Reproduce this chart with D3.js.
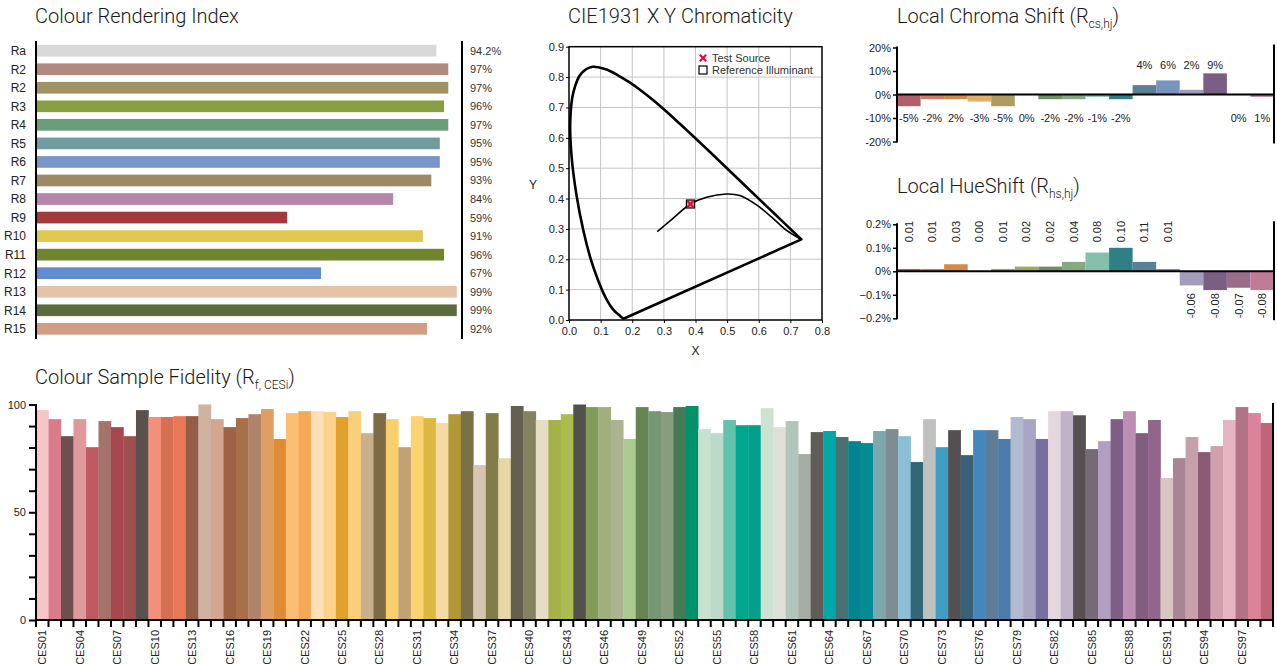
<!DOCTYPE html>
<html>
<head>
<meta charset="utf-8">
<script src="https://cdnjs.cloudflare.com/ajax/libs/d3/7.8.5/d3.min.js"></script>
<style>
  body { margin: 0; background: #fff; }
  svg { font-family: "Liberation Sans", Arial, sans-serif; }
  .title { font-family: Roboto, "Liberation Sans", sans-serif; font-weight: 300; font-size: 20px; fill: #1a1a1a; }
  .lbl { font-size: 11px; fill: #222; }
</style>
</head>
<body>
<div class="canvas"></div>
<script>
const w = 1277;
const h = 664;

// Colour Rendering Index
const criLabels = ["Ra", "R2", "R2", "R3", "R4", "R5", "R6", "R7", "R8", "R9", "R10", "R11", "R12", "R13", "R14", "R15"];
const criValues = [94.2, 97, 97, 96, 97, 95, 95, 93, 84, 59, 91, 96, 67, 99, 99, 92];
const criText = ["94.2%", "97%", "97%", "96%", "97%", "95%", "95%", "93%", "84%", "59%", "91%", "96%", "67%", "99%", "99%", "92%"];
const criColors = ["#d9d9d9", "#b08a7e", "#a09263", "#8a9e42", "#6b9e78", "#719ca0", "#7896c8", "#9c8a64",
                   "#b685ac", "#a33b3e", "#e1c852", "#70852c", "#628cd0", "#e4c3a6", "#5b6b3c", "#d19d84"];

// CIE 1931 spectral locus (x, y) and planckian locus
const locusX = [0.1741, 0.1740, 0.1738, 0.1736, 0.1733, 0.1730, 0.1726, 0.1721, 0.1714, 0.1703, 0.1689, 0.1669, 0.1644, 0.1611, 0.1566, 0.1510, 0.1440, 0.1355, 0.1241, 0.1096, 0.0913, 0.0687, 0.0454, 0.0235, 0.0082, 0.0039, 0.0139, 0.0389, 0.0743, 0.1142, 0.1547, 0.1929, 0.2296, 0.2658, 0.3016, 0.3373, 0.3731, 0.4087, 0.4441, 0.4788, 0.5125, 0.5448, 0.5752, 0.6029, 0.6270, 0.6482, 0.6658, 0.6801, 0.6915, 0.7006, 0.7079, 0.7140, 0.7190, 0.7230, 0.7260, 0.7300, 0.7320, 0.7334, 0.7347];
const locusY = [0.0050, 0.0050, 0.0049, 0.0049, 0.0048, 0.0048, 0.0048, 0.0048, 0.0051, 0.0058, 0.0069, 0.0086, 0.0109, 0.0138, 0.0177, 0.0227, 0.0297, 0.0399, 0.0578, 0.0868, 0.1327, 0.2007, 0.2950, 0.4127, 0.5384, 0.6548, 0.7502, 0.8120, 0.8338, 0.8262, 0.8059, 0.7816, 0.7543, 0.7243, 0.6923, 0.6589, 0.6245, 0.5896, 0.5547, 0.5202, 0.4866, 0.4544, 0.4242, 0.3965, 0.3725, 0.3514, 0.3340, 0.3197, 0.3083, 0.2993, 0.2920, 0.2859, 0.2809, 0.2770, 0.2740, 0.2700, 0.2680, 0.2666, 0.2653];
const planckX = [0.279, 0.329, 0.384, 0.435, 0.498, 0.540, 0.593, 0.645, 0.687, 0.733];
const planckY = [0.291, 0.335, 0.382, 0.404, 0.415, 0.410, 0.379, 0.335, 0.296, 0.266];
const testPoint = [0.384, 0.382];

// Local chroma / hue shift
const chromaValues = [-5, -2, -2, -3, -5, 0, -2, -2, -1, -2, 4, 6, 2, 9, 0, -1];
const chromaText = ["-5%", "-2%", "2%", "-3%", "-5%", "0%", "-2%", "-2%", "-1%", "-2%", "4%", "6%", "2%", "9%", "0%", "1%"];
const hueValues = [0.01, 0.01, 0.03, 0, 0.01, 0.02, 0.02, 0.04, 0.08, 0.10, 0.04, 0.01, -0.06, -0.08, -0.07, -0.08];
const hueText = ["0.01", "0.01", "0.03", "0.00", "0.01", "0.02", "0.02", "0.04", "0.08", "0.10", "0.11", "0.01", "-0.06", "-0.08", "-0.07", "-0.08"];
const binColors = ["#b0606a", "#cf7e6c", "#d38a4c", "#e0b068", "#b09c60", "#a8a460", "#6e9060", "#88a884",
                   "#84c0ac", "#2e8084", "#5a8098", "#7894bc", "#a49cbc", "#7a5e84", "#9a6e8a", "#c07c96"];

// Colour sample fidelity CES01..CES99
const cesValues = [97.4, 93.2, 85.3, 93.2, 80.2, 92.3, 89.5, 85.3, 97.4, 94.2,
                   94.2, 94.6, 94.6, 100, 93.2, 89.5, 93.7, 95.5, 97.9, 84,
                   96, 96.9, 96.9, 96.5, 94.2, 96.9, 86.7, 96, 93.2, 80.2,
                   94.6, 93.7, 91.4, 95.5, 96.9, 71.9, 96, 75.1, 99.3, 96.9,
                   92.8, 92.8, 95.5, 100, 98.8, 98.8, 92.8, 84, 98.8, 96.9,
                   96.5, 98.8, 99.3, 88.6, 86.7, 92.8, 90.4, 90.4, 98.3, 89.5,
                   92.3, 77, 87.2, 87.7, 84.9, 83, 82.1, 87.7, 88.6, 85.3,
                   73.3, 93.2, 80.2, 88.1, 76.5, 88.1, 88.1, 84, 94.2, 93.2,
                   84, 96.9, 96.9, 95, 79.3, 83, 93.2, 96.9, 86.7, 92.8,
                   65.9, 75.1, 84.9, 77.9, 80.7, 92.8, 98.8, 96, 91.4];
const cesColors = ["#f7c4c8", "#d97b8a", "#6e4f4d", "#de9a9a", "#c05a62", "#a6736c", "#a7474f", "#a05050", "#5a504e", "#f4907a",
                   "#d67055", "#e87858", "#935e45", "#cfb2a0", "#d5a68f", "#9e6342", "#a87048", "#b08468", "#e09e64", "#e08c34",
                   "#fbbf73", "#f6a955", "#fddfb8", "#fdd28d", "#e0a22c", "#fbcf7a", "#c9b08a", "#7e6b45", "#f9cf6c", "#c1a373",
                   "#fbd370", "#dcb842", "#f5dba2", "#b19735", "#7b7048", "#d5c5b1", "#827c48", "#e5d7a6", "#636050", "#85825f",
                   "#e5dec4", "#a5b24a", "#abbd4f", "#54514d", "#829b58", "#a0af7b", "#adb390", "#abca90", "#668552", "#769774",
                   "#869e7e", "#457a56", "#00926a", "#c9e1cf", "#bcd9c9", "#63c2ab", "#00a68d", "#00a08a", "#cce2d3", "#dfdfd5",
                   "#b1c5bd", "#a7aca5", "#5e5d59", "#00a8aa", "#497172", "#048490", "#048c94", "#7ea8ae", "#808c93", "#8bbfd6",
                   "#326778", "#bfc1be", "#3d9fc3", "#525050", "#386178", "#4587bb", "#5e7b97", "#4a7bab", "#b3bad0", "#a8a6c4",
                   "#77709f", "#e4d8de", "#c0b2c8", "#575053", "#756a75", "#b39ec4", "#7d5f86", "#bb8fb4", "#815e7d", "#92668c",
                   "#d8c7c0", "#a98494", "#c6a1ab", "#8d5a73", "#d0a0ad", "#e6b4c3", "#b17385", "#dc8299", "#c1647a"];
const cesLabels = cesValues.map((d, i) => "CES" + String(i + 1).padStart(2, "0"));

const graph = d3.select(".canvas")
                .append("svg")
                .attr("width", w)
                .attr("height", h);

function title(x, y, main, sub) {
  const t = graph.append("text").attr("class", "title").attr("x", x).attr("y", y).text(main);
  if (sub) {
    t.append("tspan").attr("font-size", "12px").attr("dy", 5).text(sub);
    t.append("tspan").attr("dy", -5).text(")");
  }
}

//CRI
title(35, 23, "Colour Rendering Index");

const criY = d3.scaleBand().domain(d3.range(criLabels.length)).range([41.5, 338]).paddingInner(0.37).paddingOuter(0.18);
const criX = d3.scaleLinear().domain([0, 100]).range([37, 461]);

graph.append("g").selectAll("rect")
  .data(criValues)
  .enter().append("rect")
  .attr("x", criX(0))
  .attr("y", (d, i) => criY(i))
  .attr("width", d => criX(d) - criX(0))
  .attr("height", criY.bandwidth())
  .attr("fill", (d, i) => criColors[i]);

graph.append("g").selectAll("text")
  .data(criLabels)
  .enter().append("text")
  .attr("x", 26)
  .attr("y", (d, i) => criY(i) + criY.bandwidth() / 2)
  .attr("dy", "0.36em")
  .attr("text-anchor", "end")
  .style("font-size", "12px")
  .style("fill", "#222")
  .text(d => d);

graph.append("g").selectAll("text")
  .data(criText)
  .enter().append("text")
  .attr("class", "lbl")
  .attr("x", 470)
  .attr("y", (d, i) => criY(i) + criY.bandwidth() / 2)
  .attr("dy", "0.36em")
  .style("fill", "#333")
  .text(d => d);

[36, 462].forEach(x => {
  graph.append("line").attr("x1", x).attr("x2", x).attr("y1", 41).attr("y2", 339)
    .attr("stroke", "#000").attr("stroke-width", 2);
});

//CIE chromaticity
title(568, 23, "CIE1931 X Y Chromaticity");

const cx = d3.scaleLinear().domain([0, 0.8]).range([569, 822]);
const cy = d3.scaleLinear().domain([0, 0.9]).range([320, 46.7]);

const cie = graph.append("g");
cie.selectAll(".gx").data(d3.range(1, 8).map(d => d / 10)).enter().append("line")
  .attr("x1", d => cx(d)).attr("x2", d => cx(d)).attr("y1", cy(0)).attr("y2", cy(0.9))
  .attr("stroke", "#c4c4c4");
cie.selectAll(".gy").data(d3.range(1, 9).map(d => d / 10)).enter().append("line")
  .attr("x1", cx(0)).attr("x2", cx(0.8)).attr("y1", d => cy(d)).attr("y2", d => cy(d))
  .attr("stroke", "#c4c4c4");

cie.append("g")
  .attr("transform", "translate(0," + cy(0) + ")")
  .call(d3.axisBottom(cx).tickValues(d3.range(0, 9).map(d => d / 10)).tickFormat(d3.format(".1f")).tickSize(3).tickPadding(4))
  .call(g => g.select(".domain").remove())
  .call(g => g.selectAll("text").attr("class", "lbl").style("font-family", null));
cie.append("g")
  .attr("transform", "translate(" + cx(0) + ",0)")
  .call(d3.axisLeft(cy).tickValues(d3.range(0, 10).map(d => d / 10)).tickFormat(d3.format(".1f")).tickSize(3).tickPadding(2))
  .call(g => g.select(".domain").remove())
  .call(g => g.selectAll("text").attr("class", "lbl").style("font-family", null));

cie.append("rect")
  .attr("x", cx(0)).attr("y", cy(0.9))
  .attr("width", cx(0.8) - cx(0)).attr("height", cy(0) - cy(0.9))
  .attr("fill", "none").attr("stroke", "#000").attr("stroke-width", 1.5);

cie.append("text").attr("class", "lbl").attr("x", 533).attr("y", 189).attr("text-anchor", "middle").style("font-size", "12px").text("Y");
cie.append("text").attr("class", "lbl").attr("x", cx(0.4)).attr("y", 355).attr("text-anchor", "middle").style("font-size", "12px").text("X");

const locusPts = locusX.map((d, i) => [d, locusY[i]]);
const locusLine = d3.line().x(d => cx(d[0])).y(d => cy(d[1]));
cie.append("path")
  .datum(locusPts)
  .attr("d", locusLine.curve(d3.curveCatmullRom.alpha(0.5)))
  .attr("fill", "none").attr("stroke", "#000").attr("stroke-width", 2.6).attr("stroke-linejoin", "round");
cie.append("path")
  .datum([locusPts[locusPts.length - 1], locusPts[0]])
  .attr("d", d3.line().x(d => cx(d[0])).y(d => cy(d[1])))
  .attr("fill", "none").attr("stroke", "#000").attr("stroke-width", 2.6).attr("stroke-linecap", "round");

cie.append("path")
  .datum(planckX.map((d, i) => [d, planckY[i]]))
  .attr("d", d3.line().x(d => cx(d[0])).y(d => cy(d[1])).curve(d3.curveCatmullRom))
  .attr("fill", "none").attr("stroke", "#000").attr("stroke-width", 1.6);

function crossMark(g, x, y, s) {
  g.append("path")
    .attr("d", "M" + (x - s) + "," + (y - s) + "L" + (x + s) + "," + (y + s) + "M" + (x - s) + "," + (y + s) + "L" + (x + s) + "," + (y - s))
    .attr("stroke", "#e8003c").attr("stroke-width", 2);
}

cie.append("rect")
  .attr("x", cx(testPoint[0]) - 4).attr("y", cy(testPoint[1]) - 4)
  .attr("width", 8).attr("height", 8)
  .attr("fill", "#f39aa6").attr("stroke", "#000").attr("stroke-width", 1.2);
crossMark(cie, cx(testPoint[0]), cy(testPoint[1]), 3);

//Legend
crossMark(cie, 703, 58, 3.2);
cie.append("rect").attr("x", 699).attr("y", 66).attr("width", 8).attr("height", 8)
  .attr("fill", "#fff").attr("stroke", "#000").attr("stroke-width", 1.2);
cie.append("text").attr("class", "lbl").attr("x", 712).attr("y", 62).style("fill", "#333").text("Test Source");
cie.append("text").attr("class", "lbl").attr("x", 712).attr("y", 74).style("fill", "#333").text("Reference Illuminant");

//Shift charts
function shiftChart(top, bottom, values, texts, maxV, ticks, fmt, rotate) {
  const x = d3.scaleBand().domain(d3.range(values.length)).range([897, 1274]);
  const y = d3.scaleLinear().domain([-maxV, maxV]).range([bottom, top]);
  const g = graph.append("g");

  g.selectAll("rect")
    .data(values)
    .enter().append("rect")
    .attr("x", (d, i) => x(i))
    .attr("y", d => y(Math.max(0, d)))
    .attr("width", x.bandwidth())
    .attr("height", d => Math.abs(y(d) - y(0)))
    .attr("fill", (d, i) => binColors[i]);

  g.append("g")
    .attr("transform", "translate(897,0)")
    .call(d3.axisLeft(y).tickValues(ticks).tickFormat(fmt).tickSize(4).tickPadding(2))
    .call(a => a.select(".domain").remove())
    .call(a => a.selectAll("line").attr("stroke-width", 1.5))
    .call(a => a.selectAll("text").attr("class", "lbl").style("font-family", null));

  g.append("line").attr("x1", 897).attr("x2", 897).attr("y1", top - 1).attr("y2", bottom + 1)
    .attr("stroke", "#000").attr("stroke-width", 2);
  g.append("line").attr("x1", 1274).attr("x2", 1274).attr("y1", top - 3).attr("y2", bottom + 2)
    .attr("stroke", "#000").attr("stroke-width", 2);
  g.append("line").attr("x1", 897).attr("x2", 1274).attr("y1", y(0)).attr("y2", y(0))
    .attr("stroke", "#000").attr("stroke-width", 2);

  const labels = g.append("g").selectAll("text")
    .data(texts)
    .enter().append("text")
    .attr("class", "lbl")
    .text(d => d);

  if (rotate) {
    labels
      .attr("text-anchor", "start")
      .attr("dy", "0.35em")
      .attr("transform", (d, i) => {
        const py = values[i] > 0 || (values[i] === 0 && i < 12) ? top + 18 : bottom;
        return "translate(" + (x(i) + x.bandwidth() / 2) + "," + py + ") rotate(-90)";
      });
  } else {
    labels
      .attr("text-anchor", "middle")
      .attr("x", (d, i) => x(i) + x.bandwidth() / 2)
      .attr("y", (d, i) => values[i] > 0 ? y(maxV * 0.62) : y(-maxV * 0.5))
      .attr("dy", "0.35em");
  }
}

title(897, 23, "Local Chroma Shift (R", "cs,hj");
shiftChart(47.5, 141.5, chromaValues, chromaText, 20, [-20, -10, 0, 10, 20], d => d + "%", false);

title(897, 193, "Local HueShift (R", "hs,hj");
shiftChart(224.3, 318.3, hueValues, hueText, 0.2, [-0.2, -0.1, 0, 0.1, 0.2], d => (d === 0 ? "0" : d3.format(".1f")(d)) + "%", true);

//Colour sample fidelity
title(35, 384, "Colour Sample Fidelity (R", "f, CESi");

const fx = d3.scaleBand().domain(cesLabels).range([36, 1273]);
const fy = d3.scaleLinear().domain([0, 100]).range([620, 404.5]);

graph.append("g").selectAll("rect")
  .data(cesValues)
  .enter().append("rect")
  .attr("x", (d, i) => fx(cesLabels[i]))
  .attr("y", d => fy(d))
  .attr("width", fx.bandwidth() + 0.3)
  .attr("height", d => fy(0) - fy(d))
  .attr("fill", (d, i) => cesColors[i]);

graph.append("g")
  .attr("transform", "translate(36,0)")
  .call(d3.axisLeft(fy).tickValues(d3.range(0, 101, 10)).tickFormat(d => d % 50 === 0 ? d : "").tickSize(7).tickPadding(3))
  .call(g => g.select(".domain").remove())
  .call(g => g.selectAll("line").attr("stroke-width", 2))
  .call(g => g.selectAll("text").attr("class", "lbl").style("font-family", null));

graph.append("g").selectAll("line")
  .data(cesLabels.map(d => fx(d)).concat([fx.range()[1]]))
  .enter().append("line")
  .attr("x1", d => d).attr("x2", d => d)
  .attr("y1", 620).attr("y2", 627)
  .attr("stroke", "#000").attr("stroke-width", 2);

graph.append("g")
  .attr("transform", "translate(0,620)")
  .call(d3.axisBottom(fx).tickValues(cesLabels.filter((d, i) => i % 3 === 0)).tickSize(0))
  .call(g => g.select(".domain").remove())
  .call(g => g.selectAll("text")
    .attr("class", "lbl")
    .style("font-family", null)
    .attr("text-anchor", "end")
    .attr("transform", "rotate(-90)")
    .attr("x", -10)
    .attr("y", 0)
    .attr("dy", "0.35em"));

graph.append("line").attr("x1", 36).attr("x2", 36).attr("y1", 404).attr("y2", 621)
  .attr("stroke", "#000").attr("stroke-width", 2);
graph.append("line").attr("x1", 35).attr("x2", 1274).attr("y1", 620).attr("y2", 620)
  .attr("stroke", "#000").attr("stroke-width", 2);
graph.append("line").attr("x1", 1273).attr("x2", 1273).attr("y1", 403).attr("y2", 621)
  .attr("stroke", "#000").attr("stroke-width", 2);
</script>
</body>
</html>
